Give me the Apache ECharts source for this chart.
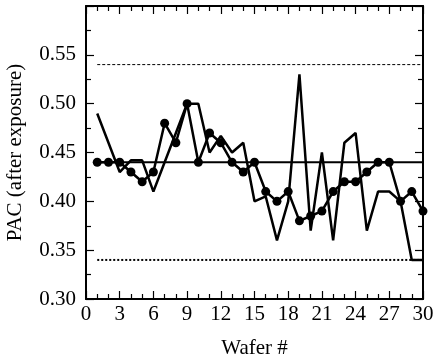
<!DOCTYPE html>
<html>
<head>
<meta charset="utf-8">
<script src="https://cdn.jsdelivr.net/npm/echarts@6/dist/echarts.min.js"></script>
<style>
  html, body { margin: 0; padding: 0; background: #fff; }
  #chart { width: 433px; height: 363px; }
</style>
</head>
<body>
<div id="chart"></div>
<script>
// Wafer numbers along the x axis
const wafers = [1,2,3,4,5,6,7,8,9,10,11,12,13,14,15,16,17,18,19,20,21,22,23,24,25,26,27,28,29,30];
// PAC measured after exposure (drawn with round markers)
const pacMeasured = [0.44,0.44,0.44,0.43,0.42,0.43,0.48,0.46,0.50,0.44,0.47,0.46,0.44,0.43,0.44,0.41,0.40,0.41,0.38,0.385,0.39,0.41,0.42,0.42,0.43,0.44,0.44,0.40,0.41,0.39];
// PAC second trace (plain line)
const pacOther = [0.49,0.46,0.43,0.442,0.442,0.41,0.44,0.47,0.50,0.50,0.45,0.467,0.45,0.46,0.40,0.405,0.36,0.40,0.53,0.37,0.45,0.36,0.46,0.47,0.37,0.41,0.41,0.40,0.34,0.34];
// Reference levels
const targetLevel = 0.44;
const upperLimit = 0.54;
const lowerLimit = 0.34;
// Axis ticks
const xTicks = { min: 0, max: 30, step: 3 };
const yTicks = { min: 0.30, max: 0.60, step: 0.05 };

const font = "'Liberation Serif', 'Times New Roman', Times, serif";
const first = wafers[0], last = wafers[wafers.length - 1];
const pairs = (xs, ys) => xs.map((x, i) => [x, ys[i]]);
const level = v => [[first, v], [last, v]];

const frame = { lineStyle: { color: '#000', width: 2 } };

function xAxisDef(pos, labels) {
  return {
    type: 'value', position: pos, min: xTicks.min, max: xTicks.max, interval: xTicks.step,
    axisLine: Object.assign({ show: true, onZero: false }, frame),
    axisTick: { show: true, inside: true, length: 8, lineStyle: { color: '#000', width: 1.2 } },
    minorTick: { show: true, splitNumber: 3, length: 5, lineStyle: { color: '#000', width: 1.2 } },
    splitLine: { show: false },
    axisLabel: { show: labels, color: '#000', fontFamily: font, fontSize: 21, margin: 5 },
    name: labels ? 'Wafer #' : '', nameLocation: 'middle', nameGap: 39,
    nameTextStyle: { color: '#000', fontFamily: font, fontSize: 21 }
  };
}
function yAxisDef(pos, labels) {
  return {
    type: 'value', position: pos, min: yTicks.min, max: yTicks.max, interval: yTicks.step,
    axisLine: Object.assign({ show: true, onZero: false }, frame),
    axisTick: { show: true, inside: true, length: 8, lineStyle: { color: '#000', width: 1.2 } },
    minorTick: { show: true, splitNumber: 2, length: 5, lineStyle: { color: '#000', width: 1.2 } },
    splitLine: { show: false },
    axisLabel: {
      show: labels, color: '#000', fontFamily: font, fontSize: 21, margin: 10,
      formatter: v => (Math.abs(v - yTicks.max) < 1e-9 ? '' : v.toFixed(2))
    },
    name: labels ? 'PAC (after exposure)' : '', nameLocation: 'middle', nameGap: 60,
    nameTextStyle: { color: '#000', fontFamily: font, fontSize: 21 }
  };
}

const chart = echarts.init(document.getElementById('chart'), null, { renderer: 'canvas' });
chart.setOption({
  backgroundColor: '#fff',
  animation: false,
  grid: { left: 86, right: 10, top: 6, bottom: 64, containLabel: false, outerBoundsMode: 'none' },
  xAxis: [xAxisDef('bottom', true), xAxisDef('top', false)],
  yAxis: [yAxisDef('left', true), yAxisDef('right', false)],
  series: [
    {
      type: 'line', data: level(upperLimit), symbol: 'none',
      lineStyle: { color: '#000', width: 1, type: [3, 2] }, z: 1
    },
    {
      type: 'line', data: level(lowerLimit), symbol: 'none',
      lineStyle: { color: '#000', width: 2, type: [2, 2] }, z: 1
    },
    {
      type: 'line', data: level(targetLevel), symbol: 'none',
      lineStyle: { color: '#000', width: 2 }, z: 2
    },
    {
      type: 'line', data: pairs(wafers, pacOther), symbol: 'none',
      lineStyle: { color: '#000', width: 2.5 }, z: 3
    },
    {
      type: 'line', data: pairs(wafers, pacMeasured), symbol: 'circle', symbolSize: 9,
      itemStyle: { color: '#000' },
      lineStyle: { color: '#000', width: 2.5 }, z: 4
    }
  ]
});
</script>
</body>
</html>
